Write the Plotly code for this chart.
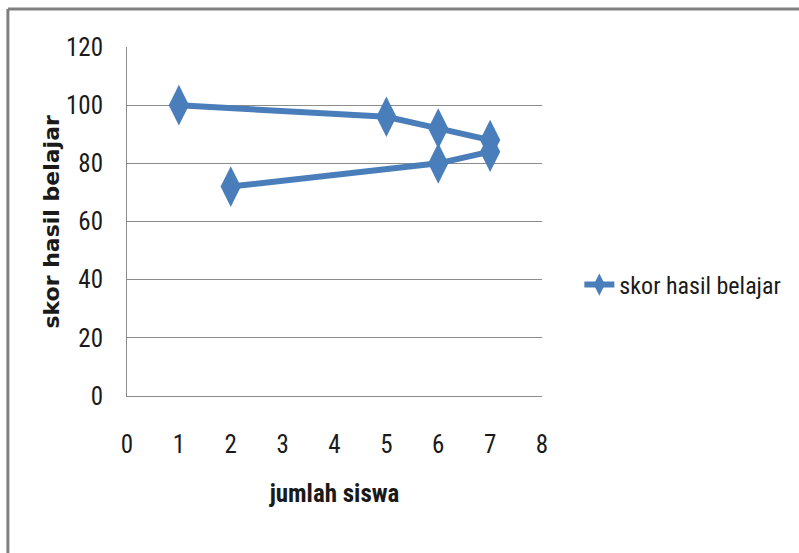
import plotly.graph_objects as go

jumlah_siswa = [1, 5, 6, 7, 7, 6, 2]
skor_hasil_belajar = [100, 96, 92, 88, 84, 80, 72]
series_name = "skor hasil belajar"
x_ticks = [0, 1, 2, 3, 4, 5, 6, 7, 8]
y_ticks = [0, 20, 40, 60, 80, 100, 120]

BLUE = "#4a7ebb"
GRAY = "#8c8c8c"
NARROW = "Liberation Sans Narrow, Arial Narrow, Roboto Condensed, sans-serif"

fig = go.Figure()
fig.add_trace(go.Scatter(
    x=jumlah_siswa, y=skor_hasil_belajar, name=series_name,
    mode="lines+markers",
    line=dict(color=BLUE, width=6),
    marker=dict(symbol="diamond-tall", size=29, color=BLUE),
))

fig.update_layout(
    width=799, height=553,
    margin=dict(l=127, r=257, t=47, b=157),
    paper_bgcolor="white", plot_bgcolor="white",
    showlegend=True,
    legend=dict(x=1.09, y=0.318, xanchor="left", yanchor="middle",
                font=dict(family=NARROW, size=24, color="#1a1a1a"),
                bgcolor="rgba(0,0,0,0)", itemwidth=30),
    xaxis=dict(range=[0, 8], tickvals=x_ticks, showgrid=False, zeroline=False,
               showline=True, linecolor=GRAY, linewidth=1,
               ticks="", ticklabelstandoff=26,
               tickfont=dict(family=NARROW, size=25, color="#1a1a1a"),
               title=dict(text="<b>jumlah siswa</b>", standoff=26,
                          font=dict(family=NARROW, size=25, color="#1a1a1a"))),
    yaxis=dict(range=[0, 120], tickvals=y_ticks, showgrid=True, gridcolor=GRAY,
               gridwidth=1, zeroline=False, showline=True, linecolor=GRAY,
               linewidth=1, ticks="", ticklabelstandoff=18,
               tickfont=dict(family=NARROW, size=25, color="#1a1a1a")),
    annotations=[
        dict(text="<b>skor hasil belajar</b>", xref="paper", yref="paper",
             x=-0.183, y=0.5, xanchor="center", yanchor="middle",
             textangle=-90, showarrow=False,
             font=dict(family="DejaVu Sans", size=22, color="#1a1a1a")),
    ],
    shapes=[
        dict(type="line", xref="paper", yref="paper", x0=-0.287, x1=1.7,
             y0=1.109, y1=1.109, line=dict(color="#808080", width=3)),
        dict(type="line", xref="paper", yref="paper", x0=-0.287, x1=-0.287,
             y0=1.109, y1=-0.5, line=dict(color="#808080", width=3)),
    ],
)

fig.write_html("out.html")
